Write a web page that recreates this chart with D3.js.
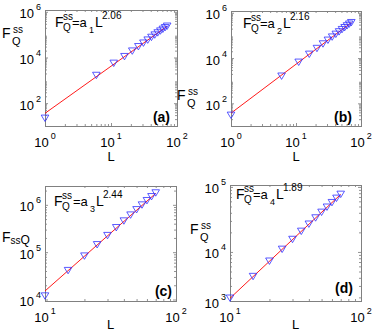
<!DOCTYPE html>
<html>
<head>
<meta charset="utf-8">
<script src="https://cdn.jsdelivr.net/npm/d3@7"></script>
<style>
  body { margin: 0; background: #fff; }
  svg { display: block; font-family: "Liberation Sans", Arial, Helvetica, sans-serif; }
</style>
</head>
<body>
<svg id="chart" width="374" height="332"></svg>
<script>
// system sizes L for panels (a),(b) and (c),(d)
const sizesAB = [1, 6, 11, 16, 21, 26, 31, 36, 41, 46, 51, 56, 61, 66, 71];
const sizesCD = [10, 15, 20, 25, 30, 35, 40, 45, 50, 55, 60, 65, 70];

// steady state F_Q^ss
const fssA = [22, 1650, 5600, 11000, 19200, 29900, 42800, 58200, 76400, 96800, 120000, 145000, 173000, 204000, 236000];
const fssB = [30, 1600, 6590, 14800, 26700, 42300, 61800, 85300, 113000, 145000, 182000, 222000, 267000, 317000, 370000];
const fssC = [11900, 41000, 83000, 144000, 225000, 330000, 457000, 610000, 790000, 995000, 1230000, 1490000, 1790000];
const fssD = [1950, 4200, 7230, 11000, 15600, 20800, 26800, 33400, 40800, 48900, 57500, 67000, 77100];

// power-law fits a_i L^b
const fitCoef = [36, 37, 55, 25];
const fitExp = ['2.06', '2.16', '2.44', '1.89'];
const panelTags = ['(a)', '(b)', '(c)', '(d)'];

// axes
const xDomains = [[1, 100], [1, 100], [10, 100], [10, 100]];
const yDomains = [[10, 1.2e6], [10, 1.2e6], [9300, 2.5e6], [1760, 1.07e5]];
const xTicks = [[1, 10, 100], [1, 10, 100], [10, 100], [10, 100]];
const xTickExp = [['0', '1', '2'], ['0', '1', '2'], ['1', '2'], ['1', '2']];
const yTicks = [[100, 1e4, 1e6], [100, 1e4, 1e6], [1e4, 1e5, 1e6], [1760, 1e4, 1e5]];
const yTickExp = [['2', '4', '6'], ['2', '4', '6'], ['4', '5', '6'], ['3', '4', '5']];

const seriesL = [sizesAB, sizesAB, sizesCD, sizesCD];
const seriesF = [fssA, fssB, fssC, fssD];

// layout
const boxes = [
  { x0: 45, y0: 10, x1: 177, y1: 126 },
  { x0: 231, y0: 11, x1: 361, y1: 126 },
  { x0: 45, y0: 186, x1: 176, y1: 301 },
  { x0: 230, y0: 185, x1: 361, y1: 301 }
];
// equation: [F x, baseline, ss/Q x, "=a" x, index x, L x, exponent x]
const eqPos = [
  [55, 27, 63, 72, 89, 95, 102],
  [243, 28, 251, 260, 277, 283, 290],
  [54, 206, 62, 73, 90, 96, 103],
  [236, 199, 244, 253, 270, 276, 283]
];
const tagPos = [[170, 122], [352, 122], [172, 296], [353, 293]];
const yTitlePos = [[2, 38], [177, 100], [2, 242], [190, 234]];
const xTitlePos = [[111, 161], [296, 161], [110.5, 329], [295.5, 329]];

const svg = d3.select('#chart');
svg.append('rect').attr('width', 374).attr('height', 332).attr('fill', '#fff');

function minorTicks(dom) {
  let out = [];
  let lo = Math.floor(Math.log10(dom[0])), hi = Math.ceil(Math.log10(dom[1]));
  for (let e = lo; e < hi; e++) {
    for (let m = 2; m < 10; m++) {
      let v = m * Math.pow(10, e);
      if (v > dom[0] && v < dom[1]) out.push(v);
    }
  }
  return out;
}

function tickLabel(g, x, y, exp, anchor) {
  let t = g.append('text')
    .attr('x', x).attr('y', y)
    .attr('text-anchor', anchor)
    .attr('font-size', 13)
    .attr('fill', '#000')
    .text('10');
  t.append('tspan').attr('dx', 2).attr('dy', -8).attr('font-size', 9).text(exp);
}

boxes.forEach((b, i) => {
  let g = svg.append('g');
  let x = d3.scaleLog().domain(xDomains[i]).range([b.x0, b.x1]);
  let y = d3.scaleLog().domain(yDomains[i]).range([b.y1, b.y0]);

  //Ticks on all four sides, pointing in
  let axes = [
    [d3.axisBottom, 'translate(0,' + b.y1 + ')', x, xTicks[i], xDomains[i]],
    [d3.axisTop, 'translate(0,' + b.y0 + ')', x, xTicks[i], xDomains[i]],
    [d3.axisLeft, 'translate(' + b.x0 + ',0)', y, yTicks[i], yDomains[i]],
    [d3.axisRight, 'translate(' + b.x1 + ',0)', y, yTicks[i], yDomains[i]]
  ];
  axes.forEach(a => {
    let major = g.append('g').attr('transform', a[1])
      .call(a[0](a[2]).tickValues(a[3]).tickSize(-3).tickSizeOuter(0).tickFormat(''));
    let minor = g.append('g').attr('transform', a[1])
      .call(a[0](a[2]).tickValues(minorTicks(a[4])).tickSize(-2).tickSizeOuter(0).tickFormat(''));
    [major, minor].forEach(s => {
      s.select('.domain').remove();
      s.selectAll('line').attr('stroke', '#777').attr('stroke-width', 0.8);
    });
  });

  //Box
  g.append('rect')
    .attr('x', b.x0 + 0.5).attr('y', b.y0 + 0.5)
    .attr('width', b.x1 - b.x0).attr('height', b.y1 - b.y0)
    .attr('fill', 'none').attr('stroke', '#808080').attr('stroke-width', 1);

  //Tick labels
  xTicks[i].forEach((v, k) => tickLabel(g, x(v), b.y1 + 21, xTickExp[i][k], 'middle'));
  yTicks[i].forEach((v, k) => tickLabel(g, b.x0 - 4, y(v) + 6.5, yTickExp[i][k], 'end'));

  //Fit line
  let Ls = seriesL[i];
  let Lmin = Ls[0], Lmax = Ls[Ls.length - 1];
  let line = d3.line()
    .x(d => x(d))
    .y(d => y(fitCoef[i] * Math.pow(d, +fitExp[i])));
  g.append('path')
    .datum([Lmin, Lmax])
    .attr('d', line)
    .attr('fill', 'none')
    .attr('stroke', '#ff0000')
    .attr('stroke-width', 0.9);

  //Markers (down triangles)
  g.selectAll('.pt')
    .data(Ls.map((L, k) => ({ L: L, F: seriesF[i][k] })))
    .enter()
    .append('path')
      .attr('class', 'pt')
      .attr('transform', d => 'translate(' + x(d.L) + ',' + y(d.F) + ')')
      .attr('d', 'M-3.8,-3.1L3.8,-3.1L0,3.3Z')
      .attr('fill', 'none')
      .attr('stroke', '#3030ff')
      .attr('stroke-width', 0.8);

  //Equation
  let e = eqPos[i], B = e[1];
  let eq = g.append('g').attr('fill', '#000');
  eq.append('text').attr('x', e[0]).attr('y', B).attr('font-size', 14).text('F');
  eq.append('text').attr('x', e[2]).attr('y', B - 7).attr('font-size', 10).text('ss');
  eq.append('text').attr('x', e[2]).attr('y', B + 4).attr('font-size', 10).text('Q');
  eq.append('text').attr('x', e[3]).attr('y', B).attr('font-size', 13).text('=a');
  eq.append('text').attr('x', e[4]).attr('y', B + 6).attr('font-size', 9).text(String(i + 1));
  eq.append('text').attr('x', e[5]).attr('y', B).attr('font-size', 14).text('L');
  eq.append('text').attr('x', e[6]).attr('y', B - 8).attr('font-size', 10).text(fitExp[i]);

  //Panel tag
  g.append('text')
    .attr('x', tagPos[i][0]).attr('y', tagPos[i][1])
    .attr('text-anchor', 'end')
    .attr('font-size', 14).attr('font-weight', 'bold')
    .text(panelTags[i]);

  //Axis titles
  let yt = yTitlePos[i];
  if (i === 2) {
    let t = g.append('text').attr('x', yt[0]).attr('y', yt[1]).attr('font-size', 14).text('F');
    t.append('tspan').attr('dy', 2).attr('font-size', 10).text('ss');
    t.append('tspan').attr('font-size', 12).text('Q');
  } else {
    g.append('text').attr('x', yt[0]).attr('y', yt[1]).attr('font-size', 14).text('F');
    g.append('text').attr('x', yt[0] + 11).attr('y', yt[1] - 5).attr('font-size', 10).text('ss');
    g.append('text').attr('x', yt[0] + 10).attr('y', yt[1] + 7).attr('font-size', 11).text('Q');
  }
  g.append('text')
    .attr('x', xTitlePos[i][0]).attr('y', xTitlePos[i][1])
    .attr('text-anchor', 'middle')
    .attr('font-size', 13)
    .text('L');
});
</script>
</body>
</html>
